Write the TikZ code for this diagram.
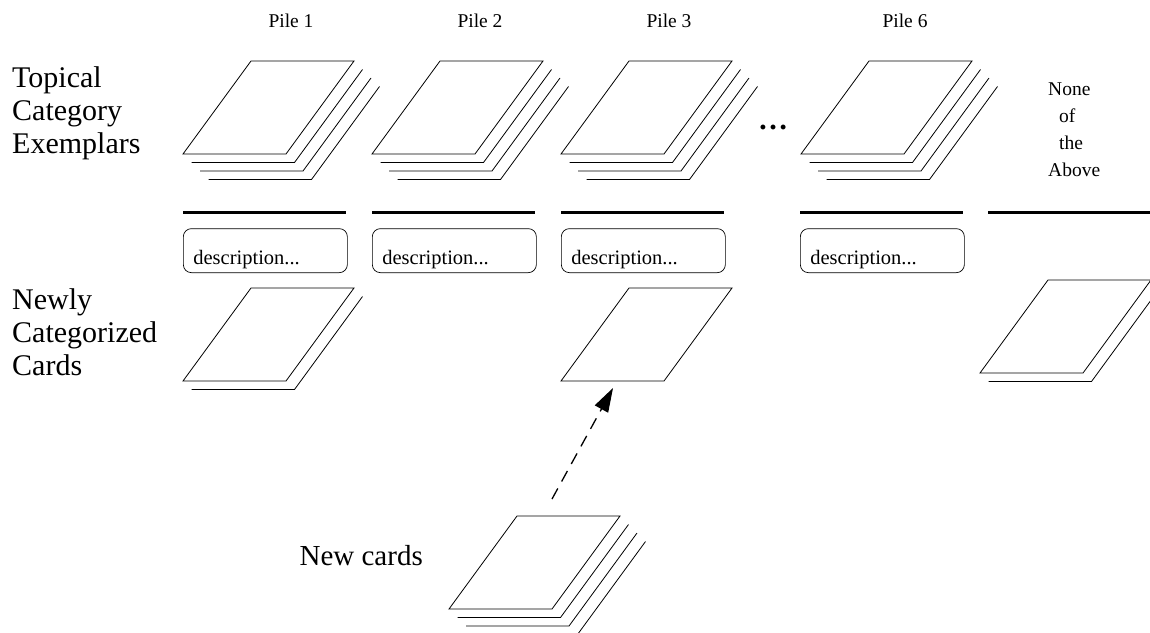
\documentclass[tikz,border=0pt]{standalone}
\usepackage{fontspec}
\setmainfont{Liberation Serif}
\usetikzlibrary{arrows.meta,positioning,calc}

% one card: bottom left corner at (#1,#2), #3 cards lying behind it
\newcommand{\cardstack}[3]{%
  \ifnum#3>0
    \foreach \k in {1,...,#3}
      \draw[cardline] (#1+8.5*\k,#2+8.5*\k) -- ++(103,0) -- ++(68,-93);
  \fi
  \draw[cardline] (#1,#2) -- ++(103,0) -- ++(68,-93) -- ++(-103,0) -- cycle;
}

\tikzset{
  cardline/.style={line width=0.8pt},
  shelf/.style={line width=3pt},
  descbox/.style={draw, line width=0.7pt, rounded corners=8pt, anchor=south west,
    text width=144pt, align=left, inner xsep=10pt, inner ysep=6pt,
    text height=30pt, text depth=2pt, font=\fontsize{20.5}{22}\selectfont},
  pilelabel/.style={anchor=base, inner sep=0pt, font=\fontsize{19.5}{22}\selectfont},
  sidelabel/.style={anchor=north west, align=left, inner sep=0pt,
    font=\fontsize{30}{33}\selectfont},
  moved/.style={dash pattern=on 12pt off 8pt, line width=1.3pt,
    -{Triangle[length=24pt,width=15pt]}},
}

\begin{document}
\begin{tikzpicture}[x=1pt, y=-1pt]
\clip (0,0) rectangle (1150,632);
%labels on the left
\node[sidelabel] (exemplars) at (12,66) {Topical\\Category\\Exemplars};
\node[sidelabel] (newly) at (12,288) {Newly\\Categorized\\Cards};
\node[anchor=base east, inner sep=0pt, font=\fontsize{29}{33}\selectfont] (newlabel) at (423,565) {New cards};
%pile headings
\node[pilelabel] (pile1) at (291,27) {Pile 1};
\node[pilelabel] (pile2) at (480,27) {Pile 2};
\node[pilelabel] (pile3) at (669,27) {Pile 3};
\node[pilelabel] (pile6) at (905,27) {Pile 6};
\node[sidelabel, font=\fontsize{19.5}{27}\selectfont] (none) at (1048,83)
  {None\\\hspace{11pt}of\\\hspace{11pt}the\\Above};
\node[anchor=base, inner sep=0pt, font=\bfseries\fontsize{30}{33}\selectfont] (dots) at (773,129) {\dots};
%exemplar stacks
\cardstack{183}{154}{3}
\cardstack{372}{154}{3}
\cardstack{561}{154}{3}
\cardstack{801}{154}{3}
%shelves
\draw[shelf] (183,212) -- (346,212);
\draw[shelf] (372,212) -- (535,212);
\draw[shelf] (561,212) -- (724,212);
\draw[shelf] (800,212) -- (963,212);
\draw[shelf] (988,212) -- (1150,212);
%descriptions
\node[descbox] (desc1) at (183,273) {description...};
\node[descbox] (desc2) at (372,273) {description...};
\node[descbox] (desc3) at (561,273) {description...};
\node[descbox] (desc6) at (800,273) {description...};
%newly categorized
\cardstack{183}{381}{1}
\cardstack{561}{381}{0}
\cardstack{980}{373}{1}
%new cards
\cardstack{449}{609}{3}
\coordinate (newtop) at (552,499);
\coordinate (pile3card) at (613,388);
\draw[moved] (newtop) -- (pile3card);
\end{tikzpicture}
\end{document}
